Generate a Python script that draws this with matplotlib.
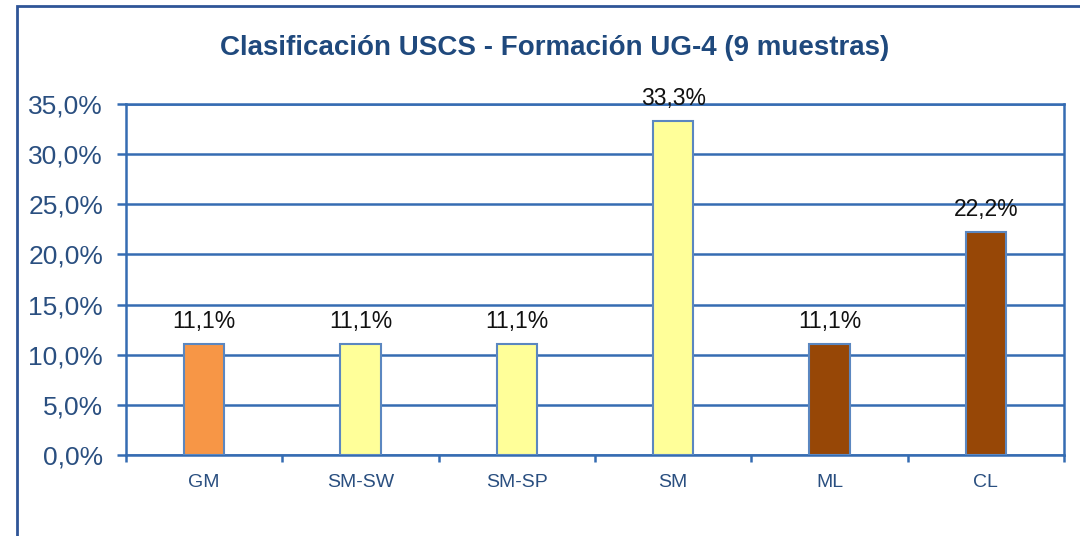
import matplotlib
matplotlib.use("Agg")
import matplotlib.pyplot as plt
from matplotlib.patches import Rectangle
from matplotlib.ticker import FuncFormatter, MultipleLocator

categories = ["GM", "SM-SW", "SM-SP", "SM", "ML", "CL"]
values = [11.1, 11.1, 11.1, 33.3, 11.1, 22.2]
labels = ["11,1%", "11,1%", "11,1%", "33,3%", "11,1%", "22,2%"]
colors = ["#F79646", "#FFFF99", "#FFFF99", "#FFFF99", "#974706", "#974706"]

W, H = 1080, 536
fig = plt.figure(figsize=(W / 100, H / 100), dpi=100)
plt.rcParams['font.family'] = ['Liberation Sans', 'DejaVu Sans']

# outer chart frame (partially cropped in reference)
fig.patches.append(Rectangle((17 / W, -0.2), 2.0, (H - 6) / H + 0.2,
                             transform=fig.transFigure, fill=False,
                             edgecolor="#2F5597", linewidth=2, clip_on=False))

ax = fig.add_axes([126 / W, (H - 455) / H, (1064 - 126) / W, (455 - 104) / H])
grid_c = "#356CB2"
x = list(range(len(categories)))
ax.bar(x, values, width=0.26, color=colors, edgecolor="#5B87C0", linewidth=1.5, zorder=3)
for xi, v, lab in zip(x, values, labels):
    ax.text(xi, v + 1.1, lab, ha="center", va="bottom", fontsize=16.5, color="#111111", zorder=4)

ax.set_xlim(-0.5, len(categories) - 0.5)
ax.set_ylim(0, 35)
ax.yaxis.set_major_locator(MultipleLocator(5))
ax.yaxis.set_major_formatter(FuncFormatter(lambda v, p: f"{v:.1f}%".replace(".", ",")))
ax.grid(axis="y", color=grid_c, linewidth=1.8, zorder=1)
ax.set_axisbelow(True)
for s in ax.spines.values():
    s.set_color(grid_c)
    s.set_linewidth(1.8)

ax.set_xticks(x)
ax.set_xticklabels(categories)
ax.set_xticks([i - 0.5 for i in range(len(categories) + 1)], minor=True)
ax.tick_params(axis="x", which="major", length=0, pad=14, labelsize=14, labelcolor="#2A4F80")
ax.tick_params(axis="x", which="minor", length=5, width=1.8, color=grid_c, direction="out")
ax.tick_params(axis="y", length=6.5, width=1.8, color=grid_c, labelsize=19, labelcolor="#2A4F80", pad=10)

fig.text(555 / W, (H - 48) / H, "Clasificación USCS - Formación UG-4 (9 muestras)",
         ha="center", va="center", fontsize=20, fontweight="bold", color="#1F497D")

fig.savefig("out.png", dpi=100)
